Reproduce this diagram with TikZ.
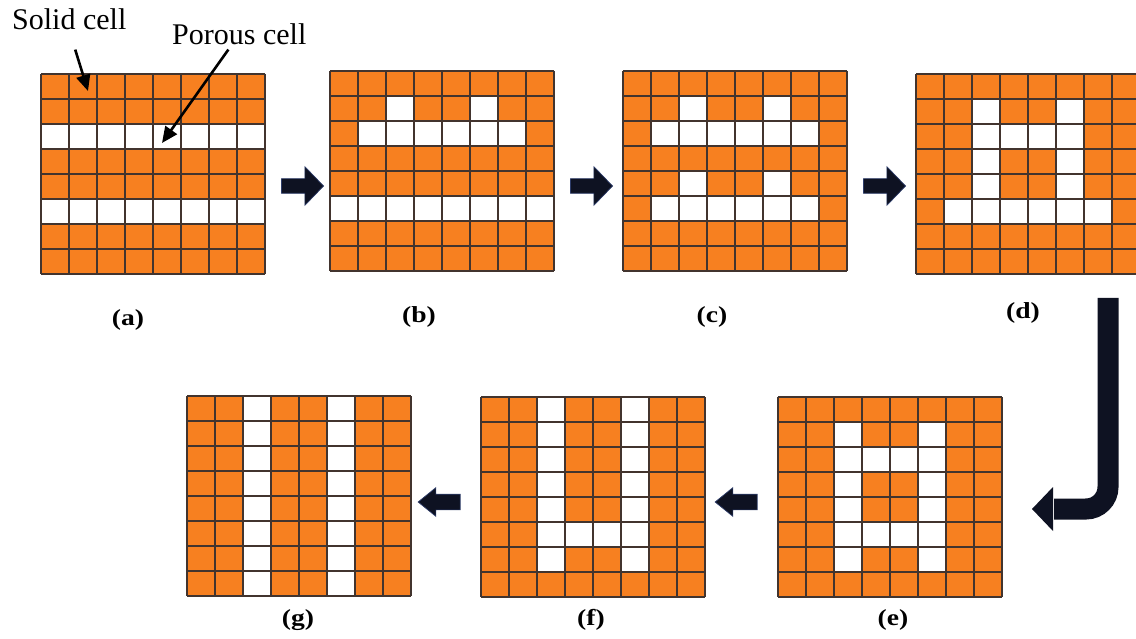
\documentclass[tikz,border=0pt]{standalone}
\usepackage{fontspec}
\setmainfont{Liberation Serif}
\usetikzlibrary{shapes.arrows,arrows.meta}
\definecolor{solidcol}{RGB}{247,128,32}
\definecolor{linecol}{RGB}{66,52,46}
\definecolor{arrowcol}{RGB}{14,18,34}
\definecolor{arrowedge}{RGB}{45,60,105}
\tikzset{
  gridline/.style={draw=linecol,line width=1.1pt},
  gridnode/.style={inner sep=0pt,minimum width=224pt,minimum height=200pt},
  blockarrow/.style={single arrow,fill=arrowcol,draw=arrowedge,line width=0.7pt,inner xsep=0pt,
     single arrow head indent=0pt},
  toparrow/.style={blockarrow,minimum height=42pt,inner ysep=7pt,single arrow head extend=12pt,single arrow tip angle=92},
  botarrow/.style={blockarrow,minimum height=42pt,inner ysep=7.5pt,single arrow head extend=6.5pt,
     single arrow tip angle=78,shape border rotate=180},
  annot/.style={draw=black,line width=2.6pt,-{Triangle[length=16pt,width=14pt]}},
  notetext/.style={font=\fontsize{30}{36}\selectfont,inner sep=0pt},
  sublabel/.style={font=\fontsize{23}{28}\bfseries\selectfont,xscale=1.2,inner sep=0pt}
}
\newcommand{\cellgrid}[4]{%
  \fill[solidcol] (#2,#3) rectangle ++(224,200);
  \foreach \c/\r in {#4} \fill[white] ({#2+(\c-1)*28},{#3+(\r-1)*25}) rectangle ++(28,25);
  \foreach \i in {0,...,8} \draw[gridline] ({#2+\i*28},#3) -- ++(0,200);
  \foreach \i in {0,...,8} \draw[gridline] (#2,{#3+\i*25}) -- ++(224,0);
  \node[gridnode] (#1) at ({#2+112},{#3+100}) {};
}
\begin{document}
\begin{tikzpicture}[x=1pt,y=-1pt]
\useasboundingbox (0,0) rectangle (1136,639);
% grids
\cellgrid{a}{41}{74}{1/3,2/3,3/3,4/3,5/3,6/3,7/3,8/3,1/6,2/6,3/6,4/6,5/6,6/6,7/6,8/6}
\cellgrid{b}{330}{71}{3/2,6/2,2/3,3/3,4/3,5/3,6/3,7/3,1/6,2/6,3/6,4/6,5/6,6/6,7/6,8/6}
\cellgrid{c}{623}{71}{3/2,6/2,2/3,3/3,4/3,5/3,6/3,7/3,3/5,6/5,2/6,3/6,4/6,5/6,6/6,7/6}
\cellgrid{d}{916}{74}{3/2,6/2,3/3,4/3,5/3,6/3,3/4,6/4,3/5,6/5,2/6,3/6,4/6,5/6,6/6,7/6}
\cellgrid{e}{778}{397}{3/2,6/2,3/3,4/3,5/3,6/3,3/4,6/4,3/5,6/5,3/6,4/6,5/6,6/6,3/7,6/7}
\cellgrid{f}{481}{397}{3/1,3/2,3/3,3/4,3/5,3/6,3/7,6/1,6/2,6/3,6/4,6/5,6/6,6/7,4/6,5/6}
\cellgrid{g}{187}{396}{3/1,3/2,3/3,3/4,3/5,3/6,3/7,3/8,6/1,6/2,6/3,6/4,6/5,6/6,6/7,6/8}
% sub-labels
\node[sublabel] (la) at (128,320) {(a)};
\node[sublabel] (lb) at (419,317) {(b)};
\node[sublabel] (lc) at (712,317) {(c)};
\node[sublabel] (ld) at (1023,313) {(d)};
\node[sublabel] (lg) at (298,620) {(g)};
\node[sublabel] (lf) at (591,620) {(f)};
\node[sublabel] (le) at (893,620) {(e)};
% block arrows
\node[toparrow] (ab) at (299,186) {};
\node[toparrow] (bc) at (588,186) {};
\node[toparrow] (cd) at (881,186) {};
\node[botarrow] (fe) at (741,502) {};
\node[botarrow] (gf) at (444,502) {};
% bent arrow from (d) down to (e)
\coordinate (bendtop) at (1108,298);
\coordinate (bendcorner) at (1108,509);
\coordinate (bendend) at (1053,509);
\coordinate (bendtip) at (1032,509);
\draw[arrowcol,line width=21pt,rounded corners=22pt] (bendtop) -- (bendcorner) -- ([xshift=1pt]bendend);
\fill[arrowcol] ([yshift=-22pt]bendend) -- (bendtip) -- ([yshift=22pt]bendend) -- cycle;
% annotations
\node[notetext,anchor=base west] (solid) at (12,30) {Solid cell};
\node[notetext,anchor=base west] (porous) at (172,45) {Porous cell};
\coordinate (solidtip) at (88,91);
\coordinate (poroustip) at (162,143);
\draw[annot,shorten <=20pt] (solid.south) -- (solidtip);
\draw[annot,shorten <=5pt] ([xshift=-8pt]porous.south) -- (poroustip);
\end{tikzpicture}
\end{document}
